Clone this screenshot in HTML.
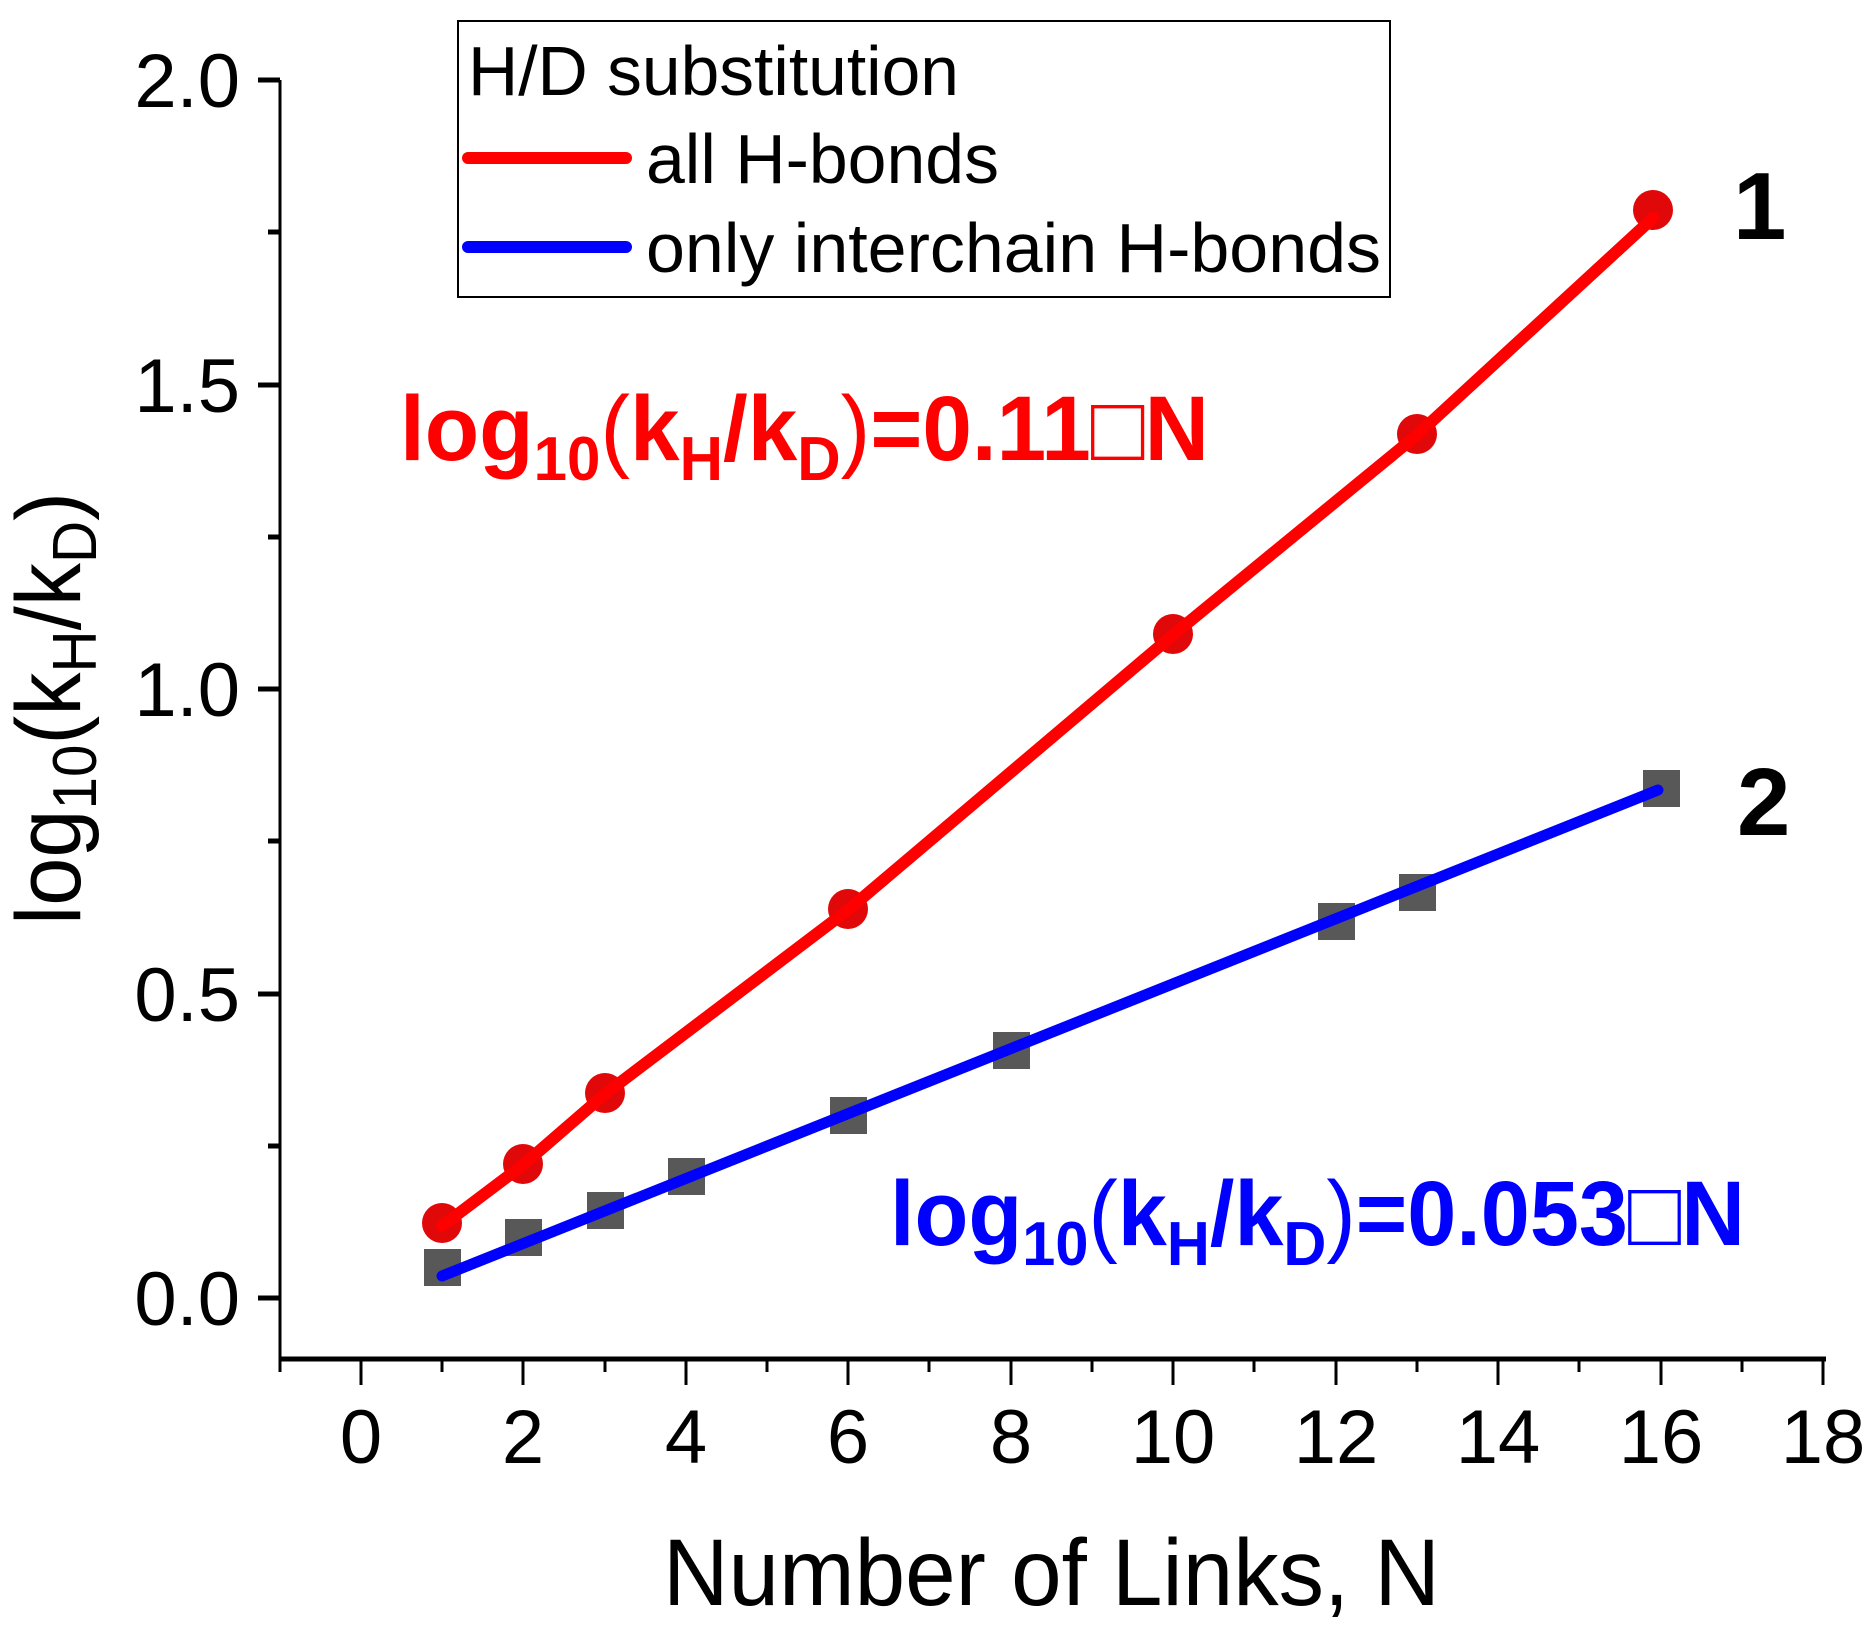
<!DOCTYPE html>
<html><head><meta charset="utf-8"><style>
html,body{margin:0;padding:0;background:#fff}
svg{display:block}
text{font-family:"Liberation Sans",sans-serif}
</style></head><body>
<svg width="1865" height="1625" viewBox="0 0 1865 1625" xmlns="http://www.w3.org/2000/svg">
<line x1="280" y1="80" x2="280" y2="1361" stroke="#000" stroke-width="3"/>
<line x1="279" y1="1359" x2="1826" y2="1359" stroke="#000" stroke-width="5"/>
<g stroke="#000" stroke-width="5">
<line x1="258" y1="80" x2="280" y2="80"/>
<line x1="258" y1="385" x2="280" y2="385"/>
<line x1="258" y1="689" x2="280" y2="689"/>
<line x1="258" y1="994" x2="280" y2="994"/>
<line x1="258" y1="1298" x2="280" y2="1298"/>
<line x1="268" y1="232" x2="280" y2="232"/>
<line x1="268" y1="537" x2="280" y2="537"/>
<line x1="268" y1="841" x2="280" y2="841"/>
<line x1="268" y1="1146" x2="280" y2="1146"/>
</g>
<g stroke="#000" stroke-width="3">
<line x1="280" y1="1359" x2="280" y2="1372"/>
<line x1="361" y1="1359" x2="361" y2="1385"/>
<line x1="442" y1="1359" x2="442" y2="1372"/>
<line x1="523" y1="1359" x2="523" y2="1385"/>
<line x1="605" y1="1359" x2="605" y2="1372"/>
<line x1="686" y1="1359" x2="686" y2="1385"/>
<line x1="767" y1="1359" x2="767" y2="1372"/>
<line x1="848" y1="1359" x2="848" y2="1385"/>
<line x1="929" y1="1359" x2="929" y2="1372"/>
<line x1="1011" y1="1359" x2="1011" y2="1385"/>
<line x1="1092" y1="1359" x2="1092" y2="1372"/>
<line x1="1173" y1="1359" x2="1173" y2="1385"/>
<line x1="1254" y1="1359" x2="1254" y2="1372"/>
<line x1="1336" y1="1359" x2="1336" y2="1385"/>
<line x1="1417" y1="1359" x2="1417" y2="1372"/>
<line x1="1498" y1="1359" x2="1498" y2="1385"/>
<line x1="1579" y1="1359" x2="1579" y2="1372"/>
<line x1="1661" y1="1359" x2="1661" y2="1385"/>
<line x1="1742" y1="1359" x2="1742" y2="1372"/>
<line x1="1823" y1="1359" x2="1823" y2="1385"/>
</g>
<g font-size="76" text-anchor="end" fill="#000">
<text x="240" y="107">2.0</text>
<text x="240" y="412">1.5</text>
<text x="240" y="716">1.0</text>
<text x="240" y="1021">0.5</text>
<text x="240" y="1325">0.0</text>
</g>
<g font-size="76" text-anchor="middle" fill="#000">
<text x="361" y="1463">0</text>
<text x="523" y="1463">2</text>
<text x="686" y="1463">4</text>
<text x="848" y="1463">6</text>
<text x="1011" y="1463">8</text>
<text x="1173" y="1463">10</text>
<text x="1336" y="1463">12</text>
<text x="1498" y="1463">14</text>
<text x="1661" y="1463">16</text>
<text x="1823" y="1463">18</text>
</g>
<text x="663" y="1605" font-size="95" textLength="777" lengthAdjust="spacingAndGlyphs">Number of Links, N</text>
<g transform="translate(80,925) rotate(-90)">
<text x="0" y="0" font-size="92" textLength="433" lengthAdjust="spacingAndGlyphs">log<tspan font-size="62" dy="16">10</tspan><tspan dy="-16">(k</tspan><tspan font-size="62" dy="16">H</tspan><tspan dy="-16">/k</tspan><tspan font-size="62" dy="16">D</tspan><tspan dy="-16">)</tspan></text>
</g>
<rect x="458" y="21" width="932" height="276" fill="#fff" stroke="#000" stroke-width="2"/>
<text x="468" y="95" font-size="70" textLength="491" lengthAdjust="spacingAndGlyphs">H/D substitution</text>
<line x1="468" y1="158" x2="626" y2="158" stroke="#f00" stroke-width="12" stroke-linecap="round"/>
<text x="646" y="183" font-size="70" textLength="353" lengthAdjust="spacingAndGlyphs">all H-bonds</text>
<line x1="468" y1="247" x2="626" y2="247" stroke="#00f" stroke-width="12" stroke-linecap="round"/>
<text x="646" y="272" font-size="70" textLength="735" lengthAdjust="spacingAndGlyphs">only interchain H-bonds</text>
<g fill="#585858">
<rect x="424" y="1249" width="37" height="37"/>
<rect x="505" y="1219" width="37" height="37"/>
<rect x="587" y="1192" width="37" height="37"/>
<rect x="668" y="1158" width="37" height="37"/>
<rect x="830" y="1097" width="37" height="37"/>
<rect x="993" y="1032" width="37" height="37"/>
<rect x="1318" y="903" width="37" height="37"/>
<rect x="1399" y="874" width="37" height="37"/>
<rect x="1643" y="770" width="37" height="37"/>
</g>
<line x1="442" y1="1276" x2="1658" y2="790" stroke="#00f" stroke-width="11" stroke-linecap="round"/>
<g fill="#e00808">
<circle cx="442" cy="1223" r="20"/>
<circle cx="523" cy="1164" r="20"/>
<circle cx="605" cy="1093" r="20"/>
<circle cx="848" cy="909" r="20"/>
<circle cx="1173" cy="634" r="20"/>
<circle cx="1417" cy="434" r="20"/>
<circle cx="1653" cy="210" r="20"/>
</g>
<polyline points="442,1226 523,1165 605,1094 848,910 1173,635 1417,435 1653,218" fill="none" stroke="#f00" stroke-width="12" stroke-linecap="round" stroke-linejoin="round"/>
<text x="1733" y="239" font-size="96" font-weight="bold">1</text>
<text x="1737" y="835" font-size="96" font-weight="bold">2</text>
<text x="400" y="460" font-size="92" font-weight="bold" fill="#f00" textLength="809" lengthAdjust="spacingAndGlyphs">log<tspan font-size="62" dy="20">10</tspan><tspan font-weight="normal" dy="-20">(</tspan>k<tspan font-size="62" dy="20">H</tspan><tspan dy="-20">/k</tspan><tspan font-size="62" dy="20">D</tspan><tspan font-weight="normal" dy="-20">)</tspan>=0.11<tspan font-weight="normal">□</tspan>N</text>
<text x="890" y="1245" font-size="92" font-weight="bold" fill="#00f" textLength="855" lengthAdjust="spacingAndGlyphs">log<tspan font-size="62" dy="20">10</tspan><tspan font-weight="normal" dy="-20">(</tspan>k<tspan font-size="62" dy="20">H</tspan><tspan dy="-20">/k</tspan><tspan font-size="62" dy="20">D</tspan><tspan font-weight="normal" dy="-20">)</tspan>=0.053<tspan font-weight="normal">□</tspan>N</text>
</svg>
</body></html>
